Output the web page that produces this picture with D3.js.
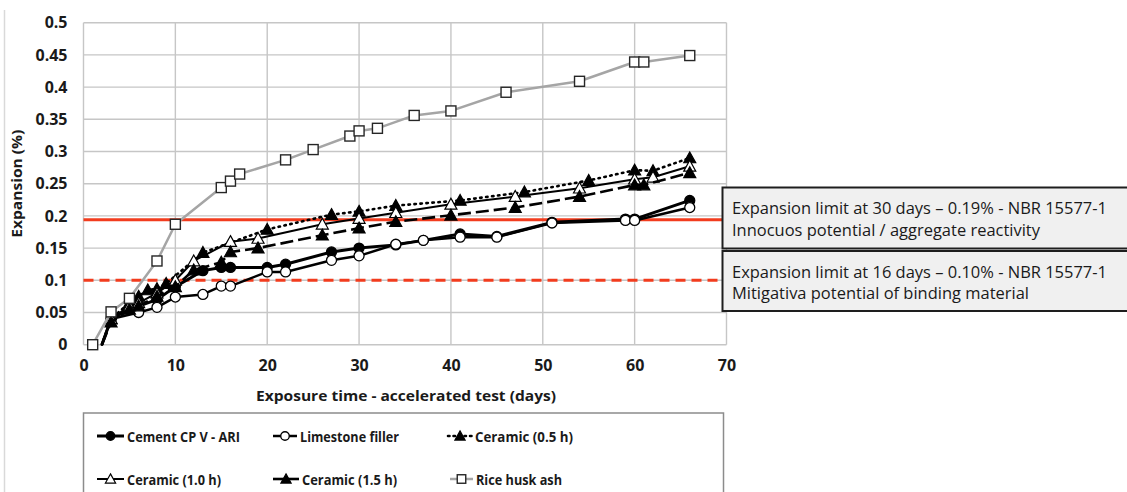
<!DOCTYPE html>
<html>
<head>
<meta charset="utf-8">
<script src="https://cdn.jsdelivr.net/npm/d3@7"></script>
<style>
  body { margin: 0; background: #fff; }
  svg { display: block; font-family: "Open Sans", "Liberation Sans", sans-serif; }
</style>
</head>
<body>
<svg id="chart" width="1127" height="492"></svg>
<script>
// --- data ---
const cementDays   = [2, 3, 5, 6, 8, 10, 13, 15, 16, 20, 22, 27, 30, 34, 37, 41, 45, 51, 59, 60, 66];
const cementValues = [0, 0.04, 0.055, 0.06, 0.07, 0.09, 0.115, 0.12, 0.12, 0.12, 0.125, 0.144, 0.15, 0.155, 0.162, 0.172, 0.168, 0.19, 0.195, 0.195, 0.224];

const limestoneDays   = [2, 3, 6, 8, 10, 13, 15, 16, 20, 22, 27, 30, 34, 37, 41, 45, 51, 59, 60, 66];
const limestoneValues = [0, 0.04, 0.05, 0.058, 0.074, 0.078, 0.091, 0.091, 0.113, 0.113, 0.131, 0.138, 0.156, 0.162, 0.167, 0.167, 0.189, 0.193, 0.193, 0.213];

const ceramic05Days   = [2, 3, 5, 6, 7, 8, 9, 13, 20, 27, 30, 34, 41, 48, 55, 60, 62, 66];
const ceramic05Values = [0, 0.04, 0.065, 0.075, 0.085, 0.087, 0.095, 0.143, 0.179, 0.202, 0.207, 0.216, 0.224, 0.237, 0.255, 0.271, 0.27, 0.29];

const ceramic10Days   = [2, 3, 5, 6, 8, 10, 12, 16, 19, 26, 30, 34, 40, 47, 54, 60, 62, 66];
const ceramic10Values = [0, 0.04, 0.06, 0.065, 0.08, 0.1, 0.13, 0.16, 0.165, 0.187, 0.196, 0.205, 0.218, 0.23, 0.243, 0.257, 0.26, 0.277];

const ceramic15Days   = [2, 3, 5, 6, 8, 10, 12, 15, 16, 19, 26, 30, 34, 40, 47, 54, 60, 61, 66];
const ceramic15Values = [0, 0.035, 0.055, 0.06, 0.075, 0.09, 0.116, 0.128, 0.144, 0.15, 0.17, 0.181, 0.191, 0.201, 0.213, 0.23, 0.248, 0.248, 0.267];

const riceDays   = [1, 3, 5, 8, 10, 15, 16, 17, 22, 25, 29, 30, 32, 36, 40, 46, 54, 60, 61, 66];
const riceValues = [0, 0.051, 0.072, 0.13, 0.187, 0.244, 0.254, 0.265, 0.287, 0.303, 0.324, 0.332, 0.336, 0.356, 0.363, 0.392, 0.409, 0.439, 0.439, 0.449];

const seriesNames = ['Cement CP V - ARI', 'Limestone filler', 'Ceramic (0.5 h)', 'Ceramic (1.0 h)', 'Ceramic (1.5 h)', 'Rice husk ash'];

const xTicks = [0, 10, 20, 30, 40, 50, 60, 70];
const yTicks = [0, 0.05, 0.1, 0.15, 0.2, 0.25, 0.3, 0.35, 0.4, 0.45, 0.5];

const limit30 = 0.194;
const limit16 = 0.1;
const limitNotes = [
    ['Expansion limit at 30 days \u2013 0.19% - NBR 15577-1', 'Innocuos potential / aggregate reactivity'],
    ['Expansion limit at 16 days \u2013 0.10% - NBR 15577-1', 'Mitigativa potential of binding material']
];

const xTitle = 'Exposure time - accelerated test (days)';
const yTitle = 'Expansion (%)';

// --- layout ---
const svg = d3.select('#chart');
const plot = { left: 83.5, right: 726.5, top: 22.7, bottom: 344.7 };

const x = d3.scaleLinear().domain([0, 70]).range([plot.left, plot.right]);
const y = d3.scaleLinear().domain([0, 0.5]).range([plot.bottom, plot.top]);

// series styling
const styles = [
    { days: cementDays, values: cementValues, stroke: '#000', width: 3, dash: null, marker: 'circle', fill: '#000', skipFirst: true },
    { days: limestoneDays, values: limestoneValues, stroke: '#000', width: 2.5, dash: null, marker: 'circle', fill: '#fff', skipFirst: true },
    { days: ceramic05Days, values: ceramic05Values, stroke: '#000', width: 2.6, dash: '1.5,4.5', cap: 'round', marker: 'triangle', fill: '#000', skipFirst: true },
    { days: ceramic10Days, values: ceramic10Values, stroke: '#000', width: 2, dash: null, marker: 'triangle', fill: '#fff', skipFirst: true },
    { days: ceramic15Days, values: ceramic15Values, stroke: '#000', width: 2.6, dash: '13,5', marker: 'triangle', fill: '#000', skipFirst: true },
    { days: riceDays, values: riceValues, stroke: '#a5a5a5', width: 2.5, dash: null, marker: 'square', fill: '#fff', markStroke: '#262626', skipFirst: false }
];

// outer chart border bits
svg.append('line').attr('x1', 4.5).attr('x2', 4.5).attr('y1', 10).attr('y2', 492)
    .attr('stroke', '#d9d9d9').attr('stroke-width', 1.5);

// --- grid + axes ---
const grid = svg.append('g');
grid.selectAll('.vgrid').data(xTicks).enter().append('line')
    .attr('x1', d => x(d)).attr('x2', d => x(d))
    .attr('y1', plot.top).attr('y2', plot.bottom)
    .attr('stroke', '#c6c6c6').attr('stroke-width', 1.4);
grid.selectAll('.hgrid').data(yTicks).enter().append('line')
    .attr('x1', plot.left).attr('x2', plot.right)
    .attr('y1', d => y(d)).attr('y2', d => y(d))
    .attr('stroke', '#c6c6c6').attr('stroke-width', 1.4);

const yAxis = svg.append('g')
    .attr('transform', `translate(${plot.left},0)`)
    .call(d3.axisLeft(y).tickValues(yTicks).tickFormat(d => String(d)).tickSize(0).tickPadding(16));
const xAxis = svg.append('g')
    .attr('transform', `translate(0,${plot.bottom})`)
    .call(d3.axisBottom(x).tickValues(xTicks).tickFormat(d => String(d)).tickSize(0).tickPadding(15));
[yAxis, xAxis].forEach(a => {
    a.select('.domain').remove();
    a.selectAll('text')
        .attr('font-size', 16).attr('font-weight', 'bold').attr('fill', '#1a1a1a')
        .attr('font-family', '"Open Sans", sans-serif');
});

// axis titles
svg.append('text')
    .attr('transform', `translate(22,${(plot.top + plot.bottom) / 2}) rotate(-90)`)
    .attr('text-anchor', 'middle')
    .attr('font-size', 15).attr('font-weight', 'bold').attr('fill', '#1a1a1a')
    .attr('textLength', 108).attr('lengthAdjust', 'spacingAndGlyphs')
    .text(yTitle);
svg.append('text')
    .attr('x', 256).attr('y', 401)
    .attr('font-size', 15).attr('font-weight', 'bold').attr('fill', '#1a1a1a')
    .attr('textLength', 300).attr('lengthAdjust', 'spacingAndGlyphs')
    .text(xTitle);

// --- limit lines ---
const boxLeft = 722.5;
svg.append('line')
    .attr('x1', plot.left).attr('x2', boxLeft)
    .attr('y1', y(limit30)).attr('y2', y(limit30))
    .attr('stroke', '#f23c1e').attr('stroke-width', 3);
svg.append('line')
    .attr('x1', plot.left).attr('x2', boxLeft)
    .attr('y1', y(limit16)).attr('y2', y(limit16))
    .attr('stroke', '#f23c1e').attr('stroke-width', 3)
    .attr('stroke-dasharray', '10,6');

// --- markers ---
function drawMarker(g, type, cx, cy, fill, stroke, scale = 1) {
    if (type === 'circle') {
        g.append('circle').attr('cx', cx).attr('cy', cy).attr('r', 5 * scale)
            .attr('fill', fill).attr('stroke', stroke).attr('stroke-width', 1.3);
    } else if (type === 'square') {
        const h = 5 * scale;
        g.append('rect').attr('x', cx - h).attr('y', cy - h).attr('width', 2 * h).attr('height', 2 * h)
            .attr('fill', fill).attr('stroke', stroke).attr('stroke-width', 1.4);
    } else {
        const s = 6 * scale;
        g.append('path')
            .attr('d', `M${cx},${cy - s}L${cx + s},${cy + s * 0.8}L${cx - s},${cy + s * 0.8}Z`)
            .attr('fill', fill).attr('stroke', stroke).attr('stroke-width', 1.2);
    }
}

const line = d3.line().x(d => x(d[0])).y(d => y(d[1]));

styles.forEach(s => {
    const pts = s.days.map((d, i) => [d, s.values[i]]);
    const g = svg.append('g');
    g.append('path')
        .datum(pts)
        .attr('d', line)
        .attr('fill', 'none')
        .attr('stroke', s.stroke)
        .attr('stroke-width', s.width)
        .attr('stroke-dasharray', s.dash)
        .attr('stroke-linecap', s.cap || 'butt')
        .attr('stroke-linejoin', 'round');
    pts.forEach((p, i) => {
        if (i === 0 && s.skipFirst) return;
        drawMarker(g, s.marker, x(p[0]), y(p[1]), s.fill, s.markStroke || '#000');
    });
});

// --- annotation boxes ---
const boxes = [{ top: 187.5, bottom: 248.5 }, { top: 251, bottom: 311 }];
boxes.forEach((b, i) => {
    svg.append('rect')
        .attr('x', boxLeft).attr('y', b.top)
        .attr('width', 1127 - boxLeft + 5).attr('height', b.bottom - b.top)
        .attr('fill', '#f0f0f0').attr('stroke', '#1e1e1e').attr('stroke-width', 2);
    const lines = limitNotes[i];
    const widths = i === 0 ? [375, 308] : [375, 297];
    lines.forEach((t, j) => {
        svg.append('text')
            .attr('x', 732).attr('y', b.top + 26.5 + j * 21.5)
            .attr('font-size', 16.5).attr('fill', '#1a1a1a')
            .attr('textLength', widths[j]).attr('lengthAdjust', 'spacingAndGlyphs')
            .text(t);
    });
});

// --- legend ---
svg.append('rect')
    .attr('x', 83.5).attr('y', 413).attr('width', 640).attr('height', 100)
    .attr('fill', '#fff').attr('stroke', '#8c8c8c').attr('stroke-width', 1.5);

const legendPos = [
    { sx: 97, tx: 127, y: 436, w: 113 },
    { sx: 273, tx: 300, y: 436, w: 99 },
    { sx: 448, tx: 475, y: 436, w: 98 },
    { sx: 97, tx: 127, y: 479, w: 94 },
    { sx: 273, tx: 302, y: 479, w: 95 },
    { sx: 450, tx: 476, y: 479, w: 86 }
];
styles.forEach((s, i) => {
    const p = legendPos[i];
    const g = svg.append('g');
    const symW = p.tx - p.sx - 3;
    g.append('line')
        .attr('x1', p.sx).attr('x2', p.sx + symW)
        .attr('y1', p.y).attr('y2', p.y)
        .attr('stroke', s.stroke).attr('stroke-width', s.width)
        .attr('stroke-dasharray', s.dash ? (s.dash === '13,5' ? null : '1.5,4') : null)
        .attr('stroke-linecap', s.cap || 'butt');
    drawMarker(g, s.marker, p.sx + symW / 2, p.y, s.fill, s.markStroke || '#000', 0.85);
    g.append('text')
        .attr('x', p.tx).attr('y', p.y + 5.5)
        .attr('font-size', 15).attr('font-weight', 'bold').attr('fill', '#1a1a1a')
        .attr('textLength', p.w).attr('lengthAdjust', 'spacingAndGlyphs')
        .text(seriesNames[i]);
});
</script>
</body>
</html>
